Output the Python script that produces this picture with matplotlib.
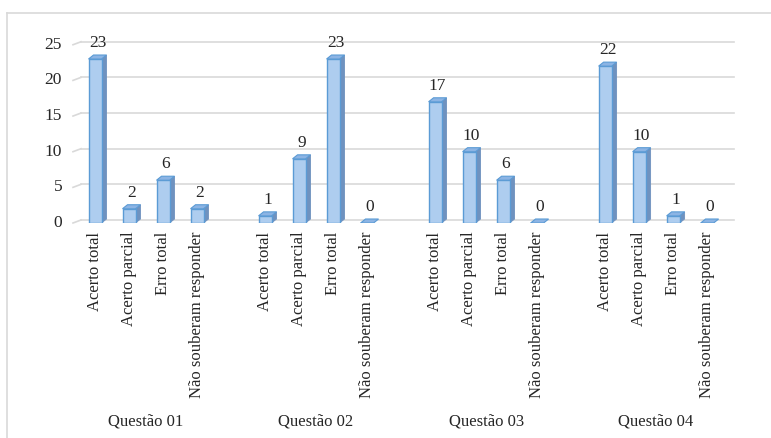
import matplotlib
matplotlib.use("Agg")
import matplotlib.pyplot as plt
from matplotlib.patches import Polygon, Rectangle
from matplotlib.lines import Line2D

# data
groups = ["Questão 01", "Questão 02", "Questão 03", "Questão 04"]
categories = ["Acerto total", "Acerto parcial", "Erro total", "Não souberam responder"]
q01 = [23, 2, 6, 2]
q02 = [1, 9, 23, 0]
q03 = [17, 10, 6, 0]
q04 = [22, 10, 1, 0]
series = [q01, q02, q03, q04]
yticks = [0, 5, 10, 15, 20, 25]

plt.rcParams["font.family"] = ["Liberation Serif", "DejaVu Serif"]

W, H = 771, 438
fig = plt.figure(figsize=(W / 100, H / 100), dpi=100)
ax = fig.add_axes([73 / W, 1 - 223 / H, (735 - 73) / W, 26 * 7.13 / H])
ax.set_xlim(-0.647, 18.82)
ax.set_ylim(0, 26)
ax.axis("off")

# border of the chart area
grey = "#d9d9d9"
fig.add_artist(Line2D([7 / W, 7 / W], [0, 1 - 13 / H], transform=fig.transFigure, color=grey, lw=1.2))
fig.add_artist(Line2D([7 / W, 1], [1 - 13 / H, 1 - 13 / H], transform=fig.transFigure, color=grey, lw=1.2))

# back wall grid, with the floor diagonals
dxw, dyw = 8 / 34, 3 / 7.13
xl, xr = -0.647, 18.8
for v in yticks:
    ax.plot([xl, xl + dxw], [v, v + dyw], color=grey, lw=1.2, clip_on=False, zorder=1)
    ax.plot([xl + dxw, xr], [v + dyw, v + dyw], color=grey, lw=1.2, clip_on=False, zorder=1)
    ax.text(xl - 0.32, v, str(v), ha="right", va="center", fontsize=12.5, color="#262626")

# 3D-looking bars
bw = 13 / 34
dx, dy = 5 / 34, 4 / 7.13
front_c = "#aecdef"
edge_c = "#5b9bd5"
side_c = "#6f92bf"
top_c = "#8cb4e4"

for g, vals in enumerate(series):
    for i, v in enumerate(vals):
        xc = g * 5 + i
        x0, x1 = xc - bw / 2, xc + bw / 2
        if v > 0:
            ax.add_patch(Polygon([(x1, 0), (x1 + dx, dy), (x1 + dx, v + dy), (x1, v)],
                                 closed=True, fc=side_c, ec=side_c, lw=0.6, zorder=3))
            ax.add_patch(Rectangle((x0, 0), bw, v, fc=front_c, ec=edge_c, lw=1.0, zorder=4))
        ax.add_patch(Polygon([(x0, v), (x0 + dx, v + dy), (x1 + dx, v + dy), (x1, v)],
                             closed=True, fc=top_c, ec=edge_c, lw=0.8, zorder=4))
        ax.annotate(str(v), (xc + dx / 2, v + dy), xytext=(0, 3), textcoords="offset points",
                    ha="center", va="bottom", fontsize=12.5, color="#262626", zorder=5)
        ax.text(xc, -1.2, categories[i], rotation=90, ha="center", va="top",
                fontsize=12, color="#262626")
    ax.text(g * 5 + 1.5, -27.8, groups[g], ha="center", va="center", fontsize=12, color="#262626")

fig.savefig("out.png", dpi=100)
